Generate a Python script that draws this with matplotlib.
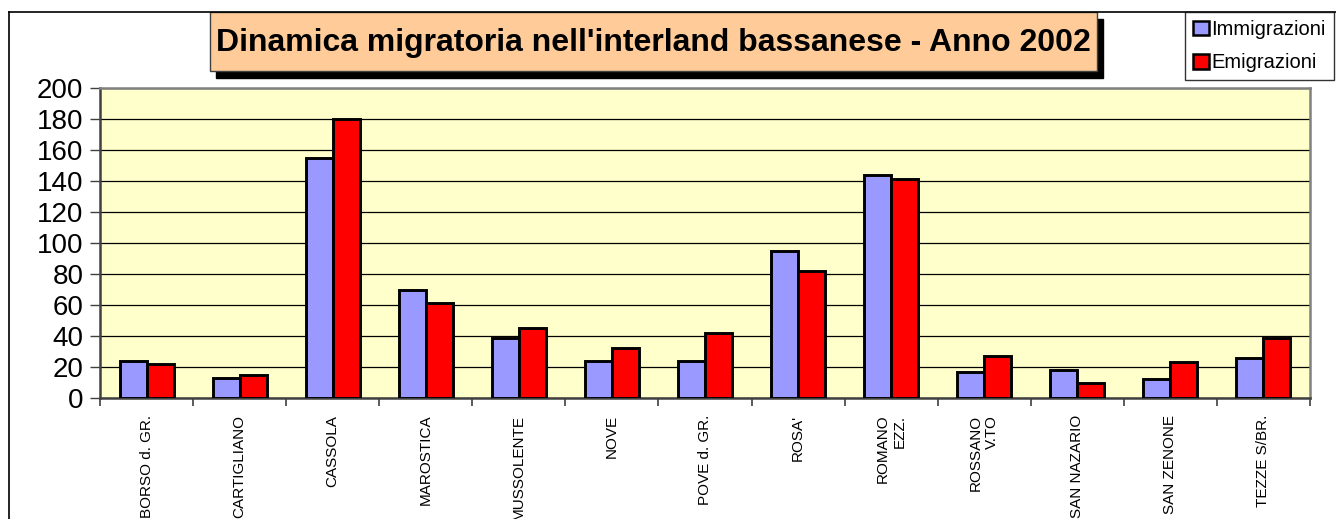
#!/usr/bin/env python3
"""Grouped bar chart: migration in the Bassano hinterland, 2002."""
import matplotlib

matplotlib.use("Agg")
import matplotlib.pyplot as plt  # noqa: E402
from matplotlib.patches import Rectangle, Patch  # noqa: E402
from matplotlib.lines import Line2D  # noqa: E402
import numpy as np  # noqa: E402

plt.rcParams["font.family"] = ["Liberation Sans", "DejaVu Sans"]

COMUNI = [
    "BORSO d. GR.", "CARTIGLIANO", "CASSOLA", "MAROSTICA", "MUSSOLENTE",
    "NOVE", "POVE d. GR.", "ROSA'", "ROMANO\nEZZ.", "ROSSANO\nV.TO",
    "SAN NAZARIO", "SAN ZENONE", "TEZZE S/BR.",
]
IMMIGRAZIONI = [24, 13, 155, 70, 39, 24, 24, 95, 144, 17, 18, 12, 26]
EMIGRAZIONI = [22, 15, 180, 61, 45, 32, 42, 82, 141, 27, 10, 23, 39]
Y_TICKS = list(range(0, 201, 20))

W, H = 1336, 519


def fx(px):
    return px / W


def fy(py):
    return 1 - py / H


fig = plt.figure(figsize=(W / 100, H / 100), dpi=100)

# outer chart frame (cropped on right and bottom)
fig.add_artist(Line2D([fx(9), fx(9)], [0, fy(12)], color="black", lw=1.2,
                      transform=fig.transFigure))
fig.add_artist(Line2D([fx(9), 1], [fy(12), fy(12)], color="black", lw=1.2,
                      transform=fig.transFigure))

ax = fig.add_axes([fx(100), fy(398), fx(1310) - fx(100), fy(88) - fy(398)])
ax.set_facecolor("#FFFFCC")

x = np.arange(len(COMUNI))
bw = 0.29
ax.bar(x - bw / 2, IMMIGRAZIONI, bw, color="#9999FF", edgecolor="black",
       linewidth=2.1, zorder=3)
ax.bar(x + bw / 2, EMIGRAZIONI, bw, color="#FF0000", edgecolor="black",
       linewidth=2.1, zorder=3)

ax.set_xlim(-0.5, len(COMUNI) - 0.5)
ax.set_ylim(0, 200)
ax.set_yticks(Y_TICKS)
ax.yaxis.grid(True, color="black", linewidth=0.9, zorder=1)
ax.set_axisbelow(True)
ax.tick_params(axis="y", labelsize=20, length=7, width=1, color="#404040", pad=5)

ax.set_xticks(x)
ax.set_xticklabels(COMUNI, rotation=90, fontsize=11, va="top", ha="center",
                   multialignment="right")
ax.tick_params(axis="x", which="major", length=0, pad=12)
ax.set_xticks(np.arange(-0.5, len(COMUNI)), minor=True)
ax.tick_params(axis="x", which="minor", length=6, width=1.2, color="#404040")

for side in ("top", "right"):
    ax.spines[side].set_color("#808080")
    ax.spines[side].set_linewidth(1.8)
for side in ("left", "bottom"):
    ax.spines[side].set_color("#404040")
    ax.spines[side].set_linewidth(1.8)

# title box with drop shadow
tx0, tx1, ty0, ty1 = 210, 1097, 12, 71
fig.add_artist(Rectangle((fx(tx0 + 6), fy(ty1 + 7)), fx(tx1 - tx0), fy(ty0) - fy(ty1),
                         facecolor="black", edgecolor="black",
                         transform=fig.transFigure))
fig.add_artist(Rectangle((fx(tx0), fy(ty1)), fx(tx1 - tx0), fy(ty0) - fy(ty1),
                         facecolor="#FFCC99", edgecolor="#404040", linewidth=1,
                         transform=fig.transFigure))
fig.text(fx((tx0 + tx1) / 2), fy((ty0 + ty1) / 2 + 2),
         "Dinamica migratoria nell'interland bassanese - Anno 2002",
         ha="center", va="center", fontsize=23, fontweight="bold")

handles = [
    Patch(facecolor="#9999FF", edgecolor="black", linewidth=1.8, label="Immigrazioni"),
    Patch(facecolor="#FF0000", edgecolor="black", linewidth=1.8, label="Emigrazioni"),
]
leg = fig.legend(handles=handles, loc="upper right",
                 bbox_to_anchor=(fx(1334), fy(12)), fontsize=14.5,
                 frameon=True, fancybox=False, edgecolor="black",
                 handlelength=0.75, handleheight=0.75, handletextpad=0.15,
                 borderpad=0.4, labelspacing=0.7, borderaxespad=0)
leg.get_frame().set_linewidth(1)

fig.savefig("out.png", dpi=100)
